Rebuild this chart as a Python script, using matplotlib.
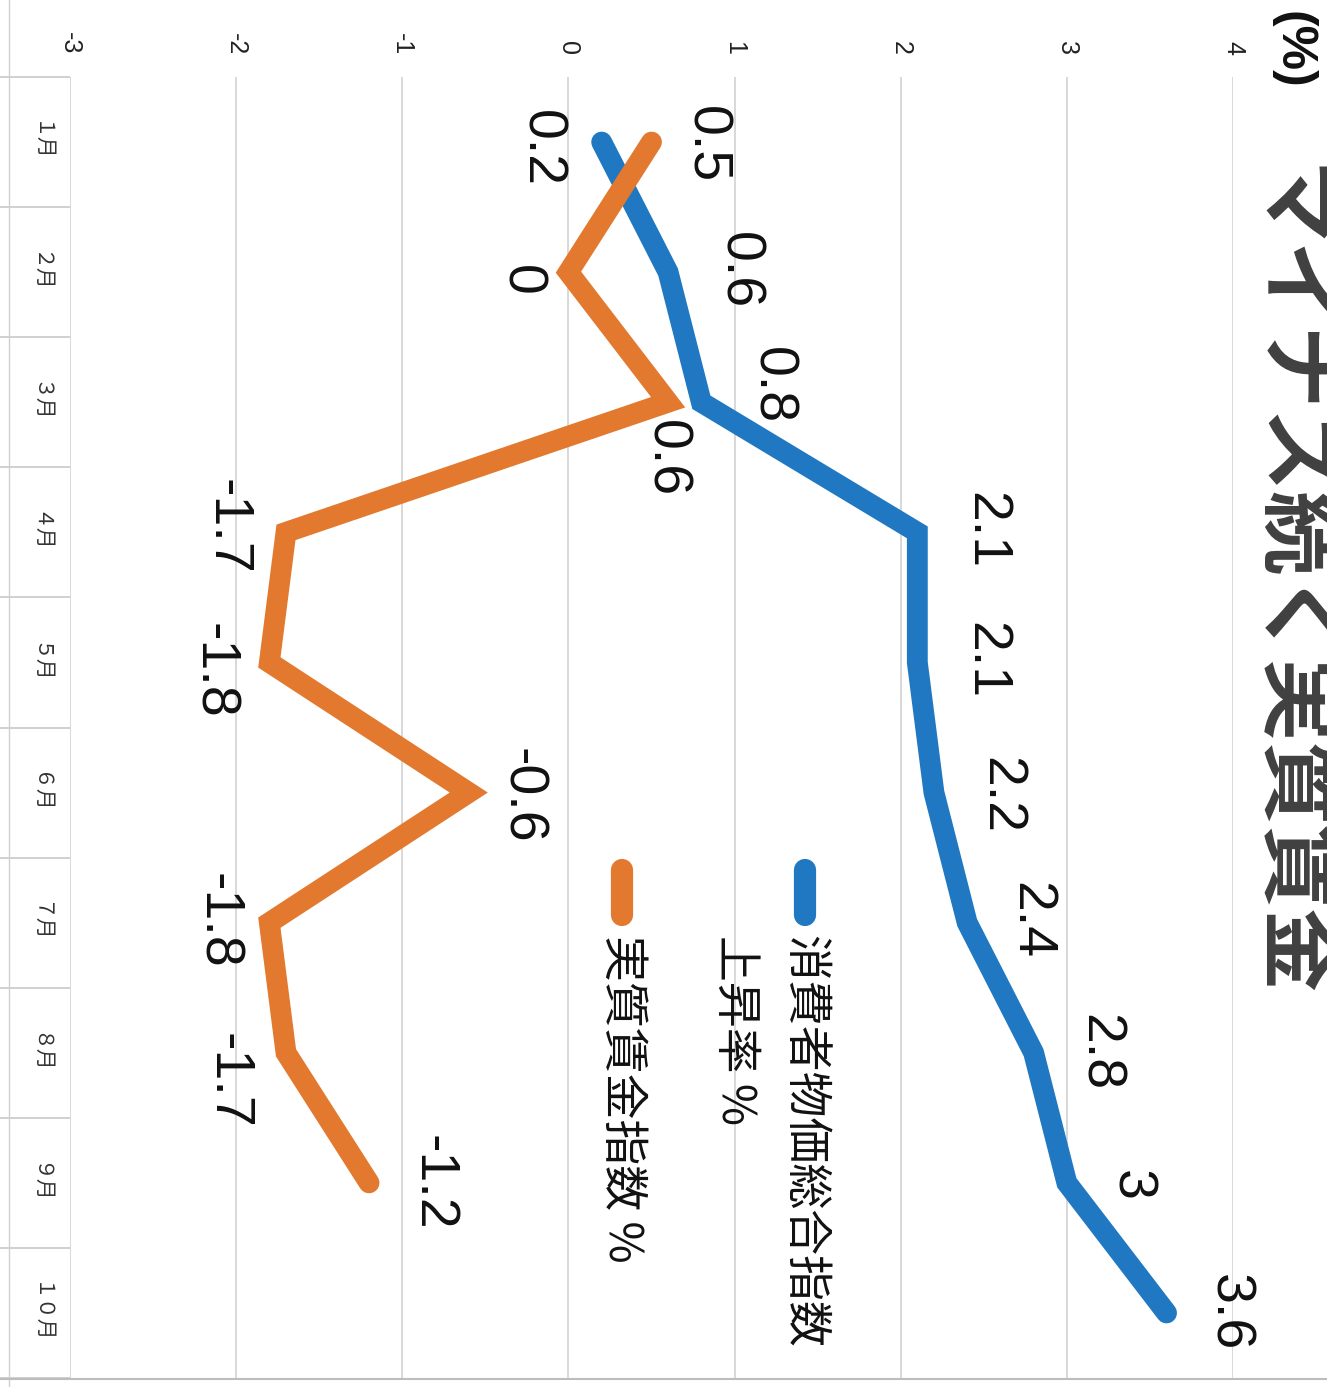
import numpy as np
import matplotlib
matplotlib.use("Agg")
import matplotlib.pyplot as plt
from matplotlib.lines import Line2D

plt.rcParams['axes.unicode_minus'] = False

# ---- data ----
months = ["１月", "２月", "３月", "４月", "５月", "６月", "７月", "８月", "９月", "１０月"]
cpi = [0.2, 0.6, 0.8, 2.1, 2.1, 2.2, 2.4, 2.8, 3.0, 3.6]
real_wage = [0.5, 0.0, 0.6, -1.7, -1.8, -0.6, -1.8, -1.7, -1.2]
cpi_labels = ["0.2", "0.6", "0.8", "2.1", "2.1", "2.2", "2.4", "2.8", "3", "3.6"]
wage_labels = ["0.5", "0", "0.6", "-1.7", "-1.8", "-0.6", "-1.8", "-1.7", "-1.2"]
value_ticks = [-3, -2, -1, 0, 1, 2, 3, 4]
series_names = ["消費者物価総合指数\n上昇率 %", "実質賃金指数 %"]
title = "マイナス続く実質賃金"

# ---- style ----
W, H = 1327, 1387
BLUE = "#1F78C1"
ORANGE = "#E2792F"
GRID = "#d6d6d6"
JP = ["Noto Sans CJK JP", "DejaVu Sans"]
NUM = ["Liberation Sans", "DejaVu Sans"]
# label offsets in image pixels (right, down)
cpi_off = [(-61, 6), (70, -2), (70, -17), (68, -2), (68, -2), (66, 3), (63, -2), (65, 0), (63, 3), (62, 0)]
wage_off = [(54, 3), (-48, 8), (-3, 56), (-59, -5), (-56, 8), (52, 3), (-52, -2), (-58, 28), (63, 0)]


def fx(px):
    return px / W


def fy(py):
    return 1 - py / H


fig = plt.figure(figsize=(W / 100, H / 100), dpi=100)
fig.patch.set_facecolor("white")

top_px, bot_px, left_px, right_px = 77, 1378, 70, 1233
ax = fig.add_axes([fx(left_px), fy(bot_px), (right_px - left_px) / W, (bot_px - top_px) / H])
ax.set_xlim(-3, 4)
ax.set_ylim(10.5, 0.5)
for s in ax.spines.values():
    s.set_visible(False)
ax.set_xticks(value_ticks)
ax.set_xticklabels([str(v) for v in value_ticks], rotation=-90, fontsize=18,
                   family=NUM, color="#222222")
ax.xaxis.tick_top()
ax.tick_params(axis="x", length=0, pad=16)
ax.set_yticks([])
ax.grid(axis="x", color=GRID, lw=1.3)
ax.set_axisbelow(True)

y_cpi = np.arange(1, len(cpi) + 1)
y_wage = np.arange(1, len(real_wage) + 1)
ax.plot(cpi, y_cpi, color=BLUE, lw=15, solid_capstyle="round", solid_joinstyle="miter", zorder=3)
ax.plot(real_wage, y_wage, color=ORANGE, lw=15, solid_capstyle="round", solid_joinstyle="miter", zorder=3)

for v, m, t, (dx, dy) in zip(cpi, y_cpi, cpi_labels, cpi_off):
    ax.annotate(t, xy=(v, m), xytext=(dx, -dy), textcoords="offset pixels",
                rotation=-90, ha="center", va="center", fontsize=40, family=NUM, color="#111111")
for v, m, t, (dx, dy) in zip(real_wage, y_wage, wage_labels, wage_off):
    ax.annotate(t, xy=(v, m), xytext=(dx, -dy), textcoords="offset pixels",
                rotation=-90, ha="center", va="center", fontsize=40, family=NUM, color="#111111")

# month table on the left
tax = fig.add_axes([fx(9), fy(bot_px), (left_px - 9) / W, (bot_px - top_px) / H], sharey=ax)
tax.set_xlim(0, 1)
tax.axis("off")
bounds = np.arange(0.5, len(months) + 1, 1.0)
tax.hlines(bounds, -9 / 61, 1, color="#c8c8c8", lw=1.2, clip_on=False)
for i, m in enumerate(months):
    tax.text(0.5, i + 1, m, rotation=-90, ha="center", va="center", fontsize=15,
             family=JP, color="#333333")

# frame lines
fig.add_artist(Line2D([fx(9), fx(9)], [0, 1], transform=fig.transFigure, color="#d0d0d0", lw=1.0))
fig.add_artist(Line2D([0, 1], [fy(1379), fy(1379)], transform=fig.transFigure, color="#bdbdbd", lw=1.5))

# legend (drawn manually, rotated)
for xpx, col in [(805, BLUE), (622, ORANGE)]:
    fig.add_artist(Line2D([fx(xpx), fx(xpx)], [fy(870), fy(915)], transform=fig.transFigure,
                          color=col, lw=16, solid_capstyle="round"))
l1, l2 = series_names[0].split("\n")
fig.text(fx(805), fy(935), l1, rotation=-90, ha="center", va="top", fontsize=33, family=JP, color="#111111")
fig.text(fx(735), fy(935), l2, rotation=-90, ha="center", va="top", fontsize=33, family=JP, color="#111111")
fig.text(fx(622), fy(935), series_names[1], rotation=-90, ha="center", va="top", fontsize=33, family=JP, color="#111111")

# title and unit
fig.text(fx(1289), fy(165), title, rotation=-90, ha="center", va="top", fontsize=60,
         family=JP, color="#404040", fontweight="bold")
fig.text(fx(1292), fy(50), "(%)", rotation=-90, ha="center", va="center", fontsize=36,
         family=NUM, color="#111111", fontweight="bold")

fig.savefig("out.png", dpi=100, facecolor="white")
